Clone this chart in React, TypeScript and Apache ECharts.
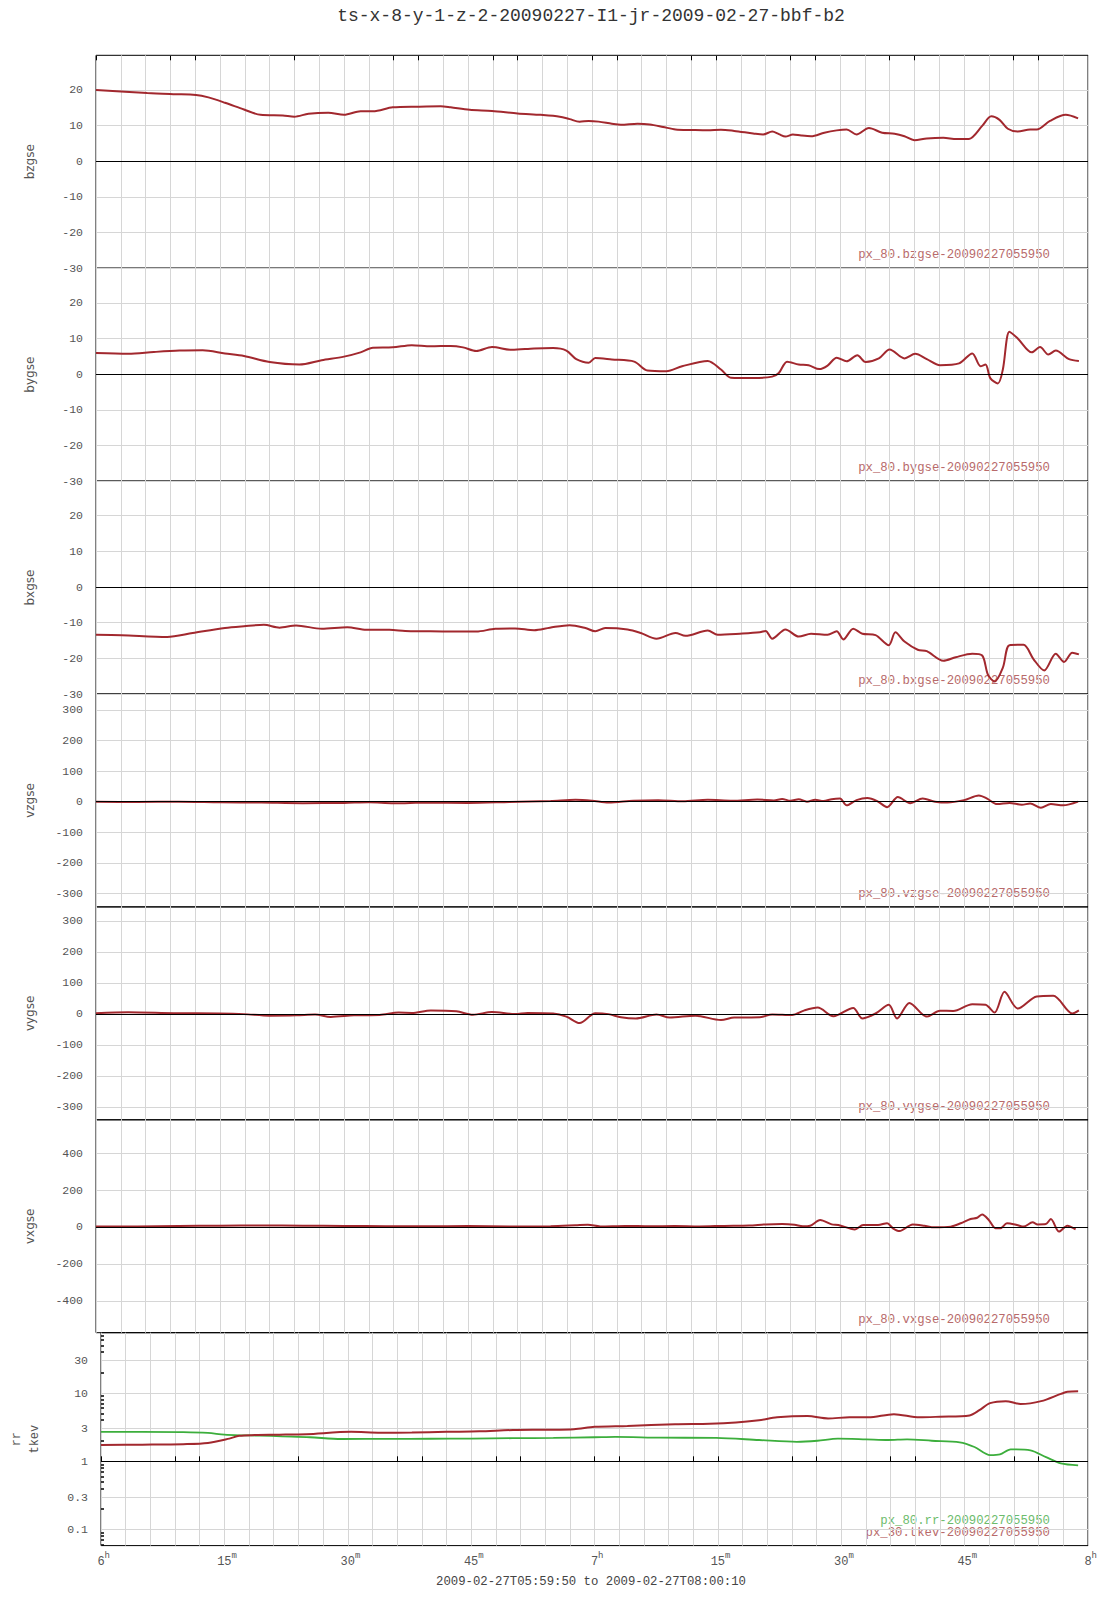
import React, { useEffect, useRef } from "react";
import * as echarts from "echarts";

const TITLE = "ts-x-8-y-1-z-2-20090227-I1-jr-2009-02-27-bbf-b2";
const SUBTITLE = "2009-02-27T05:59:50 to 2009-02-27T08:00:10";
const PANEL_NAMES = ["bzgse", "bygse", "bxgse", "vzgse", "vygse", "vxgse", "rr\ntkev"];
const LEGENDS = [
  "px_80.bzgse-20090227055950",
  "px_80.bygse-20090227055950",
  "px_80.bxgse-20090227055950",
  "px_80.vzgse-20090227055950",
  "px_80.vygse-20090227055950",
  "px_80.vxgse-20090227055950",
];
const LEGEND_RR = "px_80.rr-20090227055950";
const LEGEND_TKEV = "px_30.tkev-20090227055950";

// x in minutes after 06:00
const X_LABEL_MINUTES = [0, 15, 30, 45, 60, 75, 90, 105, 120];
const X_MAJOR_TICKS = [0, 9, 12, 24, 36, 39, 48, 51, 60, 63, 72, 75, 84, 87, 96, 99, 111, 114];

const B_TICKS = [-30, -20, -10, 0, 10, 20];
const V_TICKS = [-300, -200, -100, 0, 100, 200, 300];
const VX_TICKS = [-400, -200, 0, 200, 400];
const LOG_TICKS = [0.1, 0.3, 1, 3, 10, 30];
const LOG_MINOR = [0.06, 0.07, 0.08, 0.09, 0.2, 0.4, 0.5, 0.6, 0.7, 0.8, 0.9, 2, 4, 5, 6, 7, 8, 9, 20, 40, 50, 60, 70];

const Y_RANGES: [number, number][] = [
  [-30, 29.7],
  [-30, 29.7],
  [-30, 29.7],
  [-344, 352],
  [-342, 345],
  [-572, 580],
  [0.0583, 76.4],
];
const Y_TICKS = [B_TICKS, B_TICKS, B_TICKS, V_TICKS, V_TICKS, VX_TICKS, LOG_TICKS];

const bzgse: [number, number][] = [
  [0, 20], [6.2, 19.1], [9.35, 18.8], [12.1, 18.6], [13.6, 17.9], [15.6, 16.4], [17.9, 14.5], [19.9, 13],
  [22.6, 12.8], [24, 12.5], [25.7, 13.3], [28.1, 13.6], [30, 13], [32, 14], [33.5, 14], [35.9, 15.1],
  [39, 15.3], [41.7, 15.4], [42.9, 15.1], [45.2, 14.4], [47.9, 14.1], [51, 13.4], [53.8, 13], [56.1, 12.5],
  [57.3, 11.8], [58.5, 11.1], [59.6, 11.3], [60.8, 11.1], [62.4, 10.5], [63.5, 10.2], [65.5, 10.5], [67, 10.3],
  [68.6, 9.6], [70.1, 8.9], [72.1, 8.75], [74, 8.65], [75.6, 8.85], [77.2, 8.5], [79.5, 7.8], [80.7, 7.5],
  [81.8, 8.3], [82.6, 7.6], [83.4, 6.9], [84.3, 7.5], [85.3, 7.2], [86.5, 7], [88.1, 8], [89.6, 8.65],
  [90.8, 8.9], [92, 7.5], [93.5, 9.3], [95.1, 8], [96.6, 7.7], [97.8, 7], [99, 5.9], [100.5, 6.4],
  [102.5, 6.6], [104.1, 6.2], [105.6, 6.25], [107.2, 9.9], [108.3, 12.6], [109.3, 11.6], [110.3, 9.1], [111.5, 8.3],
  [113, 8.9], [113.8, 8.9], [115.4, 11.3], [117.3, 13], [118.8, 12],
];

const bygse: [number, number][] = [
  [0, 5.9], [3.9, 5.7], [7, 6.2], [10.1, 6.6], [12.9, 6.7], [15.6, 5.8], [17.9, 5.1], [21, 3.4], [24.6, 2.7],
  [27.3, 3.9], [30, 4.9], [32, 6.1], [33.5, 7.4], [35.9, 7.5], [38.2, 8.1], [40.5, 7.8], [42.9, 7.9], [44.4, 7.5],
  [46, 6.5], [47.9, 7.6], [50.3, 6.8], [53, 7.2], [55.3, 7.3], [56.9, 6.6], [58.1, 4.2], [59.6, 3.2], [60.4, 4.5],
  [62.4, 4.1], [65.1, 3.5], [66.7, 1], [69, 0.8], [70.9, 2.2], [74, 3.7], [75.6, 1.3], [76.8, -1], [79.5, -1.1],
  [81.8, -0.7], [82.6, 0.3], [83.6, 3.5], [85, 2.7], [86.2, 2.5], [87.5, 1.4], [88.5, 2.4], [89.6, 4.6], [90.8, 3.6],
  [92.1, 5.3], [93.1, 3.4], [94.7, 4.4], [96, 6.9], [97.8, 4.4], [99.1, 5.7], [100.5, 4.2], [102.1, 2.5], [104.4, 3],
  [106, 5.8], [107, 2.2], [107.6, 2.7], [108.2, -1.2], [109.1, -2.6], [109.7, 1.3], [110.5, 11.9], [111.5, 10],
  [113.2, 6.1], [114.2, 7.6], [115.2, 5.5], [116.1, 6.6], [117.7, 4.2], [118.9, 3.7],
];

const bxgse: [number, number][] = [
  [0, -13.4], [3.1, -13.5], [8.6, -14], [11.7, -12.9], [15.6, -11.5], [17.9, -11], [20.3, -10.6], [22.2, -11.4],
  [24.2, -10.8], [27.3, -11.7], [30.4, -11.3], [32.7, -12], [35.5, -12], [37.4, -12.3], [39.7, -12.4], [42.9, -12.5],
  [46, -12.5], [48.3, -11.7], [50.7, -11.6], [53, -12.1], [54.9, -11.4], [57.3, -10.7], [59.2, -11.5], [60.4, -12.4],
  [61.6, -11.5], [64.3, -11.9], [65.9, -12.9], [67.8, -14.5], [70.1, -12.9], [71.3, -13.7], [74, -12.2], [75.2, -13.4],
  [77.9, -13.1], [80.3, -12.7], [81, -12.3], [81.8, -14.5], [83.4, -11.9], [85, -13.9], [86.5, -13.1], [88.5, -13.4],
  [89.6, -12.4], [90.4, -14.7], [91.6, -11.7], [92.7, -13.1], [94.3, -13.5], [95.9, -16.3], [96.7, -12.7], [97.8, -15.3],
  [99.4, -17.6], [100.5, -18], [102.5, -20.7], [104, -19.7], [106, -18.7], [107.2, -19.2], [107.9, -24.6], [108.7, -26.5],
  [109.7, -22.6], [110.5, -16.3], [112.2, -16.2], [113.4, -20.2], [114.7, -23.4], [116.1, -18.7], [117.1, -21],
  [118.1, -18.4], [118.9, -18.9],
];

const vzgse: [number, number][] = [
  [0, 0], [5, -1], [10, 0], [15, -2], [20, -3], [25, -5], [30, -4], [33, -2], [36, -5], [40, -3], [45, -4],
  [50, -1], [55, 2], [58, 6], [60, 3], [62, -3], [65, 3], [68, 5], [71, 1], [74, 6], [77, 3], [80, 7], [82, 4],
  [83, 9], [84, 3], [85, 8], [86, 0], [87, 6], [88, 2], [89, 8], [90, 10], [90.8, -12], [92, 5], [93.3, 12],
  [94.5, 2], [95.7, -18], [97, 15], [98.5, -5], [100, 10], [101.5, 0], [103, -3], [105, 5], [106.8, 20],
  [107.8, 10], [109, -8], [110.5, -4], [112, -10], [113, -6], [114.3, -20], [115.5, -8], [117, -12], [118.8, 0],
];

const vygse: [number, number][] = [
  [0, 2], [3.9, 5], [9.4, 2], [14.8, 1], [17.9, -1], [21, -6], [24.2, -5], [26.5, -2], [28.4, -10], [31.2, -5],
  [34.3, -4], [36.6, 4], [38.2, 3], [40.5, 11], [43.6, 8], [45.6, -3], [47.9, 6], [50.7, -1], [52.2, 3], [55.3, 1],
  [56.9, -9], [58.5, -30], [60.4, 2], [62, -1], [63.5, -11], [65.3, -15], [67.8, -2], [69.4, -12], [72.5, -6],
  [75.6, -20], [77.2, -12], [80.3, -11], [81.8, -2], [84.2, -4], [85.7, 11], [87.3, 20], [89.2, -8], [91.6, 19],
  [92.7, -15], [94.3, 1], [95.9, 29], [96.9, -15], [98.4, 35], [100.5, -9], [102.1, 10], [103.7, 9], [106, 31],
  [107.6, 29], [108.7, 4], [109.9, 71], [111.5, 17], [113.8, 56], [115.8, 58], [118.1, 1], [118.9, 11],
];

const vxgse: [number, number][] = [
  [0, 2], [5, 3], [10, 5], [15, 7], [20, 8], [25, 7], [30, 6], [35, 4], [40, 4], [45, 5], [50, 3], [55, 4],
  [58, 9], [59.5, 12], [61, 3], [64, 6], [67, 4], [70, 5], [73, 3], [76, 6], [79, 8], [81, 14], [83, 16],
  [84.5, 12], [85.5, 4], [86.4, 7], [87.6, 38], [89, 14], [89.8, 11], [91.8, -13], [92.8, 11], [94.6, 11],
  [95.7, 20], [96.4, -7], [97.2, -22], [98.8, 14], [100.2, 7], [101.4, -2], [103.4, 2], [104.6, 20], [105.8, 43],
  [106.6, 50], [107.2, 68], [108, 38], [108.8, -7], [109.4, -7], [110.2, 20], [111.4, 11], [112.2, 2], [113.3, 25],
  [113.9, 14], [114.9, 16], [115.5, 43], [116.5, -25], [117.5, 7], [118.5, -13],
];

// bottom panel (log scale values)
const tkev: [number, number][] = [
  [0, 1.73], [5, 1.75], [10, 1.78], [13, 1.85], [15.6, 2.15], [16.8, 2.36], [18.7, 2.42], [21.7, 2.45], [25, 2.5],
  [30.4, 2.7], [34, 2.62], [37.8, 2.63], [42, 2.7], [46, 2.75], [50.1, 2.87], [54, 2.9], [57.5, 2.95], [60, 3.2],
  [64, 3.3], [69.8, 3.5], [74, 3.55], [77.2, 3.7], [80, 4.0], [82.2, 4.4], [85.9, 4.6], [88.4, 4.25], [91, 4.4],
  [93.3, 4.4], [96.4, 4.9], [99.5, 4.4], [102, 4.5], [105.6, 4.7], [106.8, 5.6], [108.1, 7.1], [110, 7.6],
  [111.8, 6.9], [114.3, 7.6], [116.7, 9.7], [117.5, 10.4], [118.8, 10.6],
];

const rr: [number, number][] = [
  [0, 2.7], [5, 2.7], [10, 2.68], [13, 2.6], [15, 2.45], [17, 2.4], [19.3, 2.38], [22, 2.32], [25.4, 2.25],
  [29.2, 2.12], [35, 2.13], [40, 2.14], [45, 2.15], [50, 2.18], [55, 2.2], [60, 2.25], [62.5, 2.28], [68, 2.22],
  [74.8, 2.2], [80, 2.05], [84.6, 1.93], [87.1, 2.0], [89.6, 2.15], [93, 2.1], [95.7, 2.05], [98, 2.1], [101, 2.0],
  [104.4, 1.9], [106.2, 1.62], [108.1, 1.23], [109.3, 1.26], [110.6, 1.5], [113, 1.45], [114.9, 1.15],
  [116.7, 0.93], [118.8, 0.87],
];

const LINEAR_SERIES = [bzgse, bygse, bxgse, vzgse, vygse, vxgse];

const RED = "#a2282e";
const GREEN = "#3cae3c";
const GRID_COLOR = "#d6d6d6";
const LABEL_COLOR = "#555";
const MONO = "'Liberation Mono', 'DejaVu Sans Mono', monospace";

const PLOT_TOP = 55.3;
const PANEL_H = 212.9;
const LEFT = 96;
const RIGHT = 19;
const WIDTH = 1107;
const HEIGHT = 1600;

const log10 = (v: number) => Math.log10(v);

function buildOption(): any {
  const grids: any[] = [];
  const xAxes: any[] = [];
  const yAxes: any[] = [];
  const series: any[] = [];

  for (let i = 0; i < 7; i++) {
    grids.push({
      left: LEFT,
      right: RIGHT,
      top: PLOT_TOP + i * PANEL_H,
      height: PANEL_H,
      show: true,
      borderColor: "#000",
      borderWidth: 1,
      backgroundColor: "transparent",
    });
    const isLast = i === 6;
    xAxes.push({
      type: "value",
      gridIndex: i,
      min: 0,
      max: 120,
      interval: 3,
      axisLine: { show: false },
      axisTick: { show: false },
      splitLine: { show: true, lineStyle: { color: GRID_COLOR, width: 1 } },
      axisLabel: isLast
        ? {
            show: true,
            customValues: X_LABEL_MINUTES,
            margin: 6,
            color: LABEL_COLOR,
            fontFamily: MONO,
            fontSize: 12,
            formatter: (v: number) => {
              const sup = v % 60 === 0 ? "h" : "m";
              const num = v % 60 === 0 ? String(6 + v / 60) : String(v % 60);
              return `{p| }{n|${num}}{s|${sup}}`;
            },
            rich: {
              p: { fontSize: 9, fontFamily: MONO, verticalAlign: "bottom" },
              n: { fontSize: 12, fontFamily: MONO, color: LABEL_COLOR, verticalAlign: "bottom" },
              s: { fontSize: 9, fontFamily: MONO, color: LABEL_COLOR, verticalAlign: "bottom", padding: [0, 0, 7, 0] },
            },
          }
        : { show: false },
    });

    const isLog = i === 6;
    const [mn, mx] = Y_RANGES[i];
    const ticks = isLog ? Y_TICKS[i].map(log10) : Y_TICKS[i];
    yAxes.push({
      type: "value",
      gridIndex: i,
      min: isLog ? log10(mn) : mn,
      max: isLog ? log10(mx) : mx,
      name: PANEL_NAMES[i],
      nameLocation: "middle",
      nameRotate: 90,
      nameGap: isLog ? 57 : 60,
      nameTextStyle: isLog
        ? { fontFamily: MONO, fontSize: 12, color: LABEL_COLOR, lineHeight: 18 }
        : { fontFamily: "'DejaVu Sans', sans-serif", fontSize: 12, color: LABEL_COLOR },
      axisLine: { show: false },
      axisTick: { show: false, customValues: ticks },
      splitLine: { show: true, lineStyle: { color: GRID_COLOR, width: 1 } },
      axisLabel: {
        show: true,
        customValues: ticks,
        margin: 13,
        color: LABEL_COLOR,
        fontFamily: MONO,
        fontSize: 11.5,
        formatter: isLog
          ? (v: number) => String(Number(Math.pow(10, v).toPrecision(1)))
          : (v: number) => String(v),
      },
    });
  }

  // extra tick-mark axes along top and bottom of the whole frame
  xAxes.push({
    type: "value",
    gridIndex: 0,
    position: "top",
    min: 0,
    max: 120,
    axisLine: { show: false },
    axisTick: { show: true, inside: true, length: 5, customValues: X_MAJOR_TICKS, lineStyle: { color: "#000", width: 1 } },
    axisLabel: { show: false },
    splitLine: { show: false },
  });
  xAxes.push({
    type: "value",
    gridIndex: 6,
    position: "bottom",
    min: 0,
    max: 120,
    axisLine: { show: false },
    axisTick: { show: true, inside: true, length: 5, customValues: X_MAJOR_TICKS, lineStyle: { color: "#000", width: 1 } },
    axisLabel: { show: false },
    splitLine: { show: false },
  });
  // minor log ticks on the bottom panel
  yAxes.push({
    type: "value",
    gridIndex: 6,
    position: "left",
    min: log10(Y_RANGES[6][0]),
    max: log10(Y_RANGES[6][1]),
    axisLine: { show: false },
    axisTick: { show: true, inside: true, length: 3, customValues: LOG_MINOR.map(log10), lineStyle: { color: "#000", width: 1.5 } },
    axisLabel: { show: false },
    splitLine: { show: false },
  });

  const zeroLine = {
    silent: true,
    symbol: ["none", "none"],
    label: { show: false },
    lineStyle: { color: "#000", width: 1, type: "solid" },
    data: [{ yAxis: 0 }],
    animation: false,
  };

  LINEAR_SERIES.forEach((d, i) => {
    series.push({
      type: "line",
      name: PANEL_NAMES[i],
      xAxisIndex: i,
      yAxisIndex: i,
      data: d,
      showSymbol: false,
      smooth: 0.3,
      lineStyle: { color: RED, width: 2 },
      itemStyle: { color: RED },
      markLine: zeroLine,
      z: 3,
    });
  });
  series.push({
    type: "line",
    name: "rr",
    xAxisIndex: 6,
    yAxisIndex: 6,
    data: rr.map(([t, v]) => [t, log10(v)]),
    showSymbol: false,
    smooth: 0.3,
    lineStyle: { color: GREEN, width: 1.8 },
    itemStyle: { color: GREEN },
    markLine: zeroLine,
    z: 3,
  });
  series.push({
    type: "line",
    name: "tkev",
    xAxisIndex: 6,
    yAxisIndex: 6,
    data: tkev.map(([t, v]) => [t, log10(v)]),
    showSymbol: false,
    smooth: 0.3,
    lineStyle: { color: RED, width: 2 },
    itemStyle: { color: RED },
    z: 4,
  });

  const legendTexts: any[] = LEGENDS.map((txt, i) => ({
    type: "text",
    x: 1050,
    y: PLOT_TOP + (i + 1) * PANEL_H - 13,
    silent: true,
    style: {
      text: txt,
      fill: "#b86a6a",
      font: `12.3px ${MONO}`,
      textAlign: "right",
      textVerticalAlign: "middle",
    },
  }));
  legendTexts.push({
    type: "text",
    x: 1050,
    y: PLOT_TOP + 7 * PANEL_H - 25,
    silent: true,
    style: { text: LEGEND_RR, fill: "#6cbc6c", font: `12.3px ${MONO}`, textAlign: "right", textVerticalAlign: "middle" },
  });
  legendTexts.push({
    type: "text",
    x: 1050,
    y: PLOT_TOP + 7 * PANEL_H - 12.5,
    silent: true,
    style: { text: LEGEND_TKEV, fill: "#b86a6a", font: `12.3px ${MONO}`, textAlign: "right", textVerticalAlign: "middle" },
  });

  return {
    animation: false,
    backgroundColor: "#fff",
    grid: grids,
    xAxis: xAxes,
    yAxis: yAxes,
    series,
    graphic: [
      {
        type: "text",
        x: 591,
        y: 16,
        silent: true,
        style: { text: TITLE, fill: "#333", font: `18px ${MONO}`, textAlign: "center", textVerticalAlign: "middle" },
      },
      {
        type: "text",
        x: 591,
        y: 1582,
        silent: true,
        style: { text: SUBTITLE, fill: "#444", font: `12.3px ${MONO}`, textAlign: "center", textVerticalAlign: "middle" },
      },
      ...legendTexts,
    ],
  };
}

export default function App() {
  const ref = useRef<HTMLDivElement>(null);
  useEffect(() => {
    if (!ref.current) return;
    const chart = echarts.init(ref.current, undefined, { renderer: "svg" });
    chart.setOption(buildOption());
    return () => chart.dispose();
  }, []);
  return (
    <div
      ref={ref}
      style={{ position: "absolute", left: 0, top: 0, width: WIDTH, height: HEIGHT, background: "#fff" }}
    />
  );
}
